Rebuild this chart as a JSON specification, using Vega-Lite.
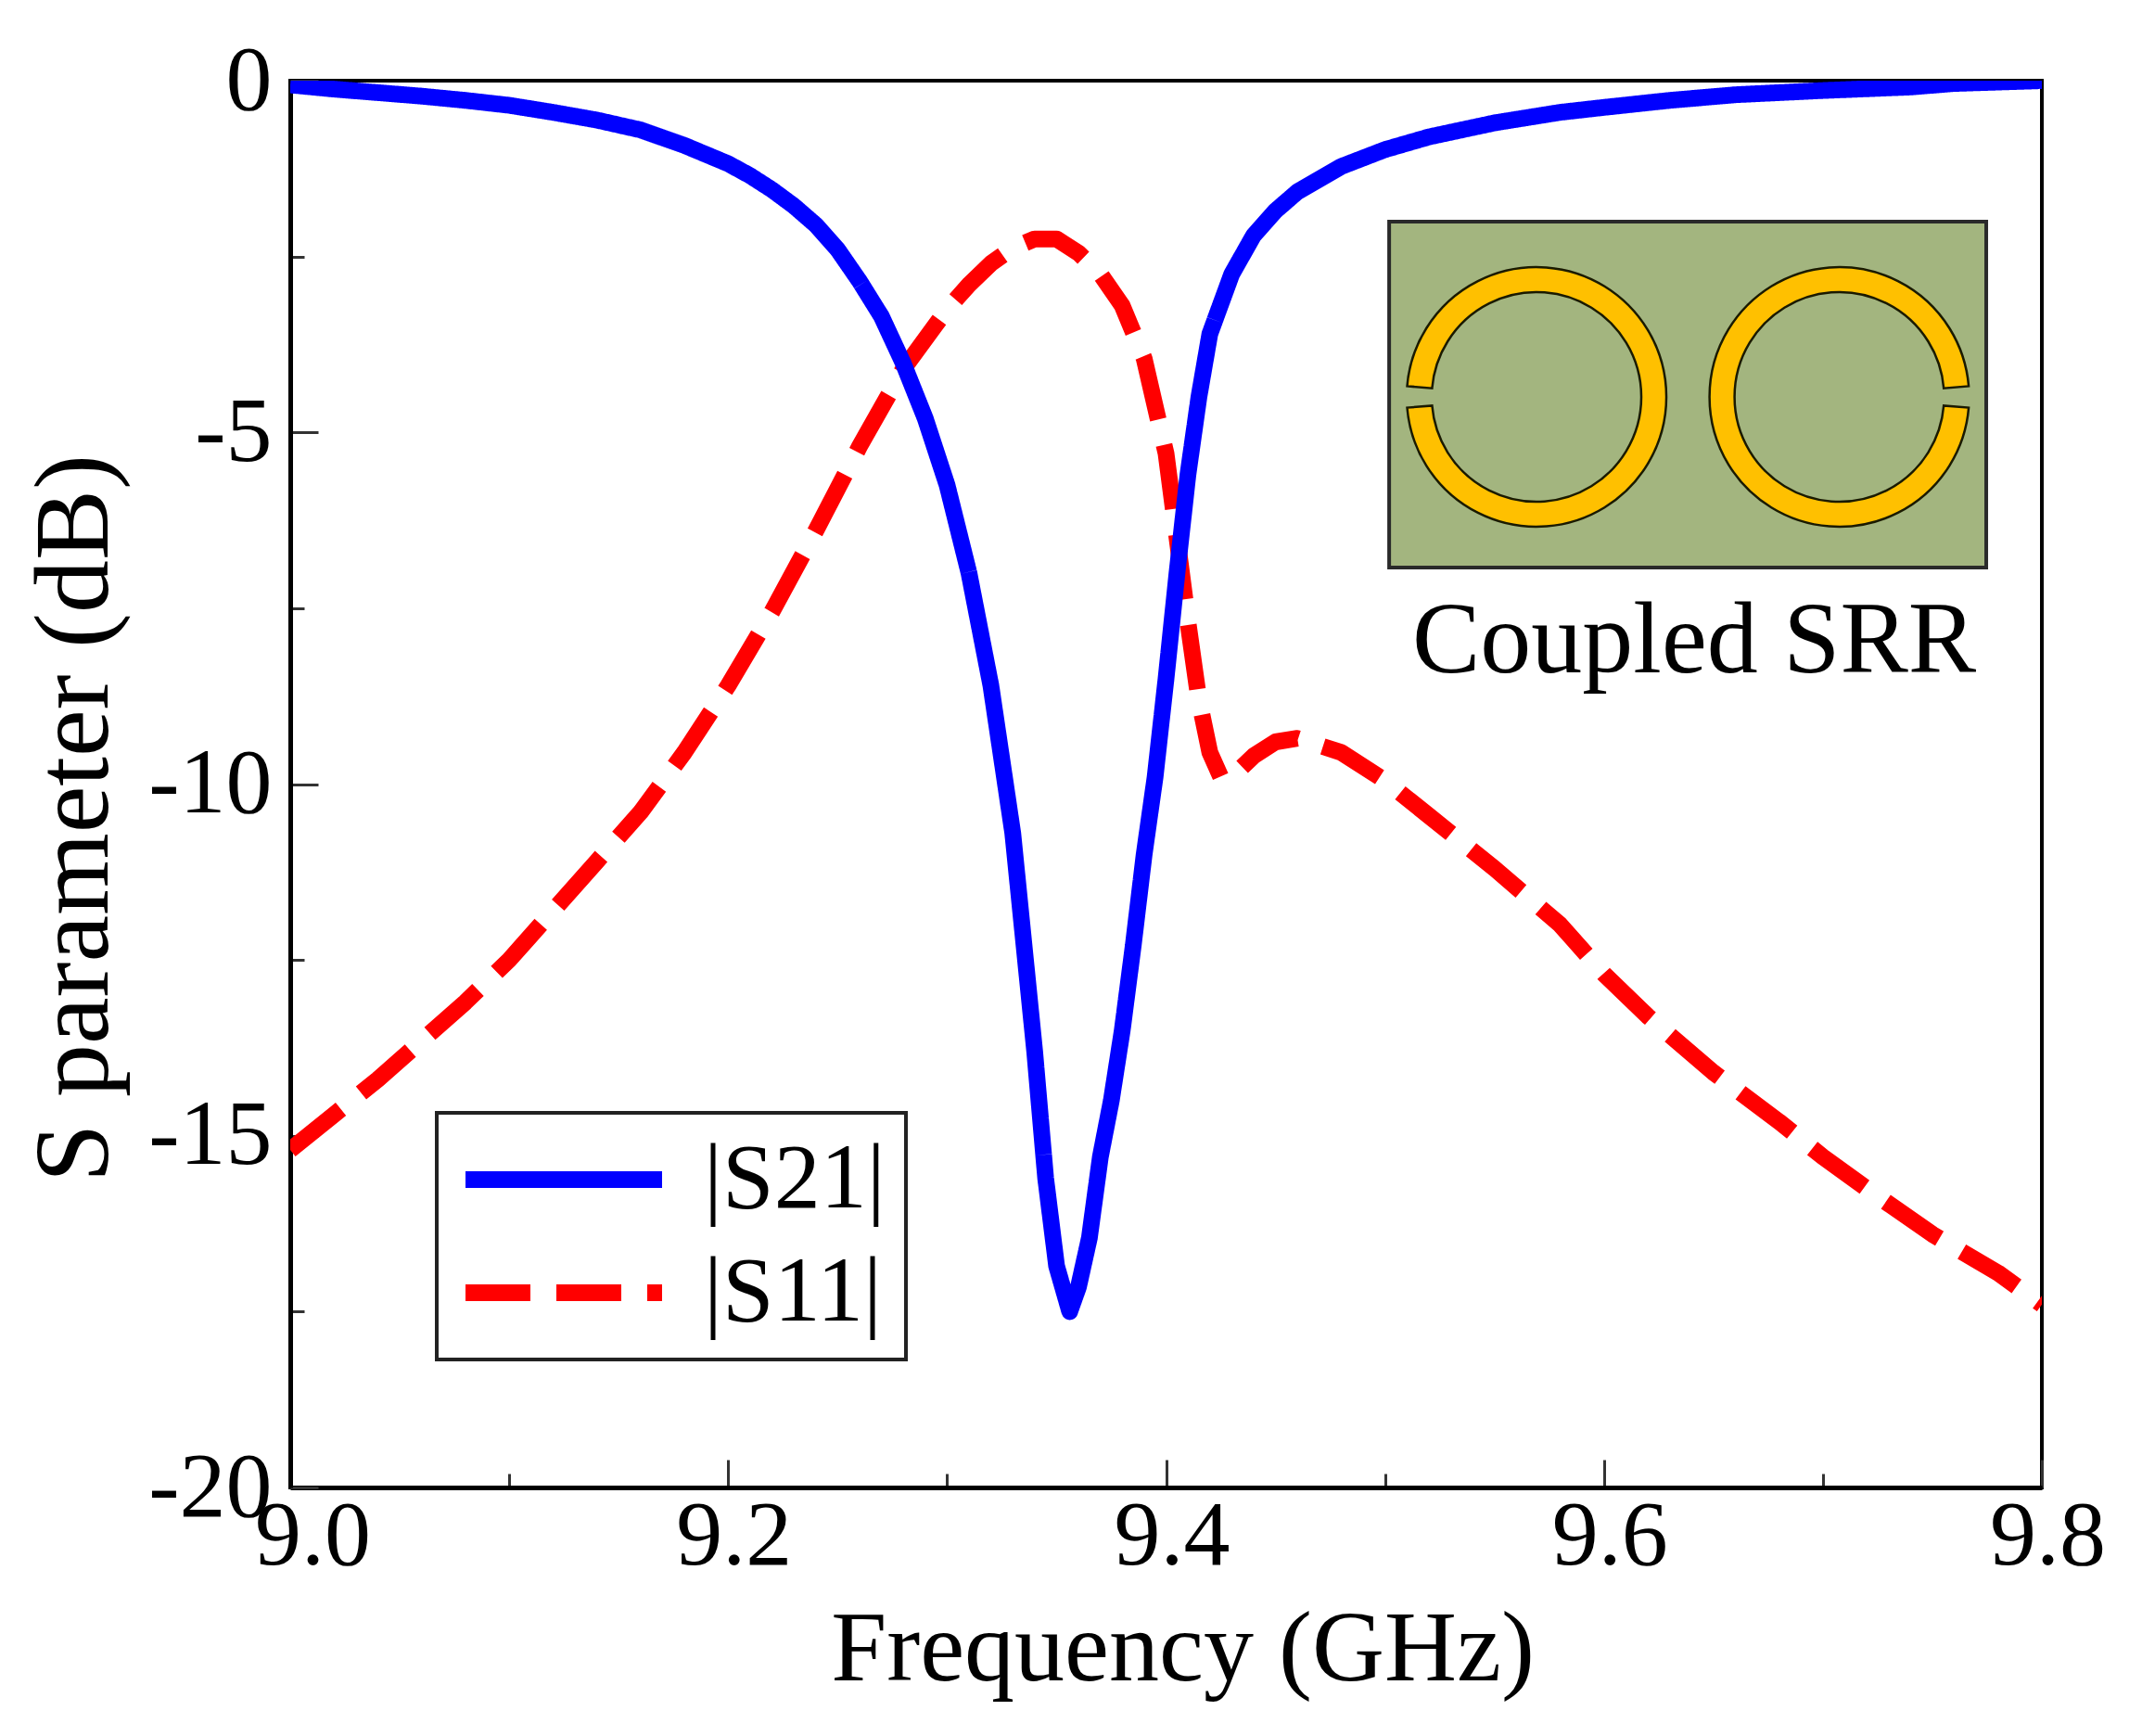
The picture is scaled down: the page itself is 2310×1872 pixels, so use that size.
{
  "$schema": "https://vega.github.io/schema/vega-lite/v6.json",
  "width": 1889,
  "height": 1517,
  "autosize": {"type": "none"},
  "padding": {"left": 313, "top": 87, "right": 108, "bottom": 268},
  "background": "white",
  "datasets": {
    "sparams": [
      {"f": 9.00, "db": -15.2, "s": "|S11|"},
      {"f": 9.02, "db": -14.7, "s": "|S11|"},
      {"f": 9.04, "db": -14.2, "s": "|S11|"},
      {"f": 9.06, "db": -13.65, "s": "|S11|"},
      {"f": 9.08, "db": -13.1, "s": "|S11|"},
      {"f": 9.10, "db": -12.5, "s": "|S11|"},
      {"f": 9.12, "db": -11.8, "s": "|S11|"},
      {"f": 9.14, "db": -11.1, "s": "|S11|"},
      {"f": 9.16, "db": -10.4, "s": "|S11|"},
      {"f": 9.18, "db": -9.55, "s": "|S11|"},
      {"f": 9.20, "db": -8.6, "s": "|S11|"},
      {"f": 9.22, "db": -7.55, "s": "|S11|"},
      {"f": 9.24, "db": -6.4, "s": "|S11|"},
      {"f": 9.26, "db": -5.2, "s": "|S11|"},
      {"f": 9.28, "db": -4.1, "s": "|S11|"},
      {"f": 9.30, "db": -3.25, "s": "|S11|"},
      {"f": 9.31, "db": -2.9, "s": "|S11|"},
      {"f": 9.32, "db": -2.6, "s": "|S11|"},
      {"f": 9.33, "db": -2.38, "s": "|S11|"},
      {"f": 9.34, "db": -2.25, "s": "|S11|"},
      {"f": 9.35, "db": -2.25, "s": "|S11|"},
      {"f": 9.36, "db": -2.45, "s": "|S11|"},
      {"f": 9.37, "db": -2.75, "s": "|S11|"},
      {"f": 9.38, "db": -3.2, "s": "|S11|"},
      {"f": 9.39, "db": -3.95, "s": "|S11|"},
      {"f": 9.40, "db": -5.3, "s": "|S11|"},
      {"f": 9.405, "db": -6.5, "s": "|S11|"},
      {"f": 9.41, "db": -7.7, "s": "|S11|"},
      {"f": 9.415, "db": -8.8, "s": "|S11|"},
      {"f": 9.42, "db": -9.55, "s": "|S11|"},
      {"f": 9.425, "db": -9.9, "s": "|S11|"},
      {"f": 9.43, "db": -9.9, "s": "|S11|"},
      {"f": 9.44, "db": -9.6, "s": "|S11|"},
      {"f": 9.45, "db": -9.4, "s": "|S11|"},
      {"f": 9.46, "db": -9.35, "s": "|S11|"},
      {"f": 9.48, "db": -9.55, "s": "|S11|"},
      {"f": 9.50, "db": -9.95, "s": "|S11|"},
      {"f": 9.52, "db": -10.45, "s": "|S11|"},
      {"f": 9.55, "db": -11.2, "s": "|S11|"},
      {"f": 9.58, "db": -12.0, "s": "|S11|"},
      {"f": 9.60, "db": -12.7, "s": "|S11|"},
      {"f": 9.62, "db": -13.3, "s": "|S11|"},
      {"f": 9.65, "db": -14.1, "s": "|S11|"},
      {"f": 9.68, "db": -14.8, "s": "|S11|"},
      {"f": 9.70, "db": -15.3, "s": "|S11|"},
      {"f": 9.72, "db": -15.75, "s": "|S11|"},
      {"f": 9.75, "db": -16.4, "s": "|S11|"},
      {"f": 9.78, "db": -16.95, "s": "|S11|"},
      {"f": 9.80, "db": -17.4, "s": "|S11|"},
      {"f": 9.00, "db": -0.06, "s": "|S21|"},
      {"f": 9.02, "db": -0.12, "s": "|S21|"},
      {"f": 9.04, "db": -0.17, "s": "|S21|"},
      {"f": 9.06, "db": -0.22, "s": "|S21|"},
      {"f": 9.08, "db": -0.28, "s": "|S21|"},
      {"f": 9.10, "db": -0.35, "s": "|S21|"},
      {"f": 9.12, "db": -0.45, "s": "|S21|"},
      {"f": 9.14, "db": -0.56, "s": "|S21|"},
      {"f": 9.16, "db": -0.7, "s": "|S21|"},
      {"f": 9.18, "db": -0.92, "s": "|S21|"},
      {"f": 9.20, "db": -1.18, "s": "|S21|"},
      {"f": 9.21, "db": -1.35, "s": "|S21|"},
      {"f": 9.22, "db": -1.55, "s": "|S21|"},
      {"f": 9.23, "db": -1.78, "s": "|S21|"},
      {"f": 9.24, "db": -2.05, "s": "|S21|"},
      {"f": 9.25, "db": -2.4, "s": "|S21|"},
      {"f": 9.26, "db": -2.85, "s": "|S21|"},
      {"f": 9.27, "db": -3.35, "s": "|S21|"},
      {"f": 9.28, "db": -4.02, "s": "|S21|"},
      {"f": 9.29, "db": -4.8, "s": "|S21|"},
      {"f": 9.30, "db": -5.75, "s": "|S21|"},
      {"f": 9.31, "db": -7.0, "s": "|S21|"},
      {"f": 9.32, "db": -8.6, "s": "|S21|"},
      {"f": 9.33, "db": -10.7, "s": "|S21|"},
      {"f": 9.34, "db": -13.8, "s": "|S21|"},
      {"f": 9.345, "db": -15.6, "s": "|S21|"},
      {"f": 9.35, "db": -16.85, "s": "|S21|"},
      {"f": 9.356, "db": -17.5, "s": "|S21|"},
      {"f": 9.36, "db": -17.15, "s": "|S21|"},
      {"f": 9.365, "db": -16.45, "s": "|S21|"},
      {"f": 9.37, "db": -15.3, "s": "|S21|"},
      {"f": 9.375, "db": -14.5, "s": "|S21|"},
      {"f": 9.38, "db": -13.5, "s": "|S21|"},
      {"f": 9.385, "db": -12.3, "s": "|S21|"},
      {"f": 9.39, "db": -11.0, "s": "|S21|"},
      {"f": 9.395, "db": -9.9, "s": "|S21|"},
      {"f": 9.40, "db": -8.5, "s": "|S21|"},
      {"f": 9.405, "db": -7.0, "s": "|S21|"},
      {"f": 9.41, "db": -5.6, "s": "|S21|"},
      {"f": 9.415, "db": -4.5, "s": "|S21|"},
      {"f": 9.42, "db": -3.6, "s": "|S21|"},
      {"f": 9.43, "db": -2.75, "s": "|S21|"},
      {"f": 9.44, "db": -2.2, "s": "|S21|"},
      {"f": 9.45, "db": -1.85, "s": "|S21|"},
      {"f": 9.46, "db": -1.58, "s": "|S21|"},
      {"f": 9.48, "db": -1.22, "s": "|S21|"},
      {"f": 9.50, "db": -0.98, "s": "|S21|"},
      {"f": 9.52, "db": -0.8, "s": "|S21|"},
      {"f": 9.55, "db": -0.6, "s": "|S21|"},
      {"f": 9.58, "db": -0.45, "s": "|S21|"},
      {"f": 9.60, "db": -0.38, "s": "|S21|"},
      {"f": 9.63, "db": -0.28, "s": "|S21|"},
      {"f": 9.66, "db": -0.2, "s": "|S21|"},
      {"f": 9.70, "db": -0.14, "s": "|S21|"},
      {"f": 9.74, "db": -0.09, "s": "|S21|"},
      {"f": 9.76, "db": -0.04, "s": "|S21|"},
      {"f": 9.80, "db": 0.0, "s": "|S21|"}
    ],
    "inset": [{"name": "Coupled SRR"}]
  },
  "layer": [
    {
      "data": {"name": "sparams"},
      "mark": {"type": "line", "strokeWidth": 18, "strokeCap": "butt", "strokeJoin": "round", "clip": true},
      "encoding": {
        "x": {
          "field": "f",
          "type": "quantitative",
          "scale": {"domain": [9.0, 9.8], "nice": false, "zero": false},
          "axis": {
            "title": "Frequency (GHz)",
            "values": [9.0, 9.1, 9.2, 9.3, 9.4, 9.5, 9.6, 9.7, 9.8],
            "labelExpr": "round(datum.value * 10) % 2 == 0 ? format(datum.value, '.1f') : ''",
            "tickSize": {"condition": {"test": "round(datum.value * 10) % 2 == 0", "value": -30}, "value": -15},
            "labelOffset": {"condition": {"test": "datum.value < 9.05", "value": 24}, "value": 6},
            "labelFlush": false,
            "labelPadding": 33,
            "labelFontSize": 100,
            "titlePadding": 20,
            "titleX": 962
          }
        },
        "y": {
          "field": "db",
          "type": "quantitative",
          "scale": {"domain": [-20, 0], "nice": false},
          "axis": {
            "title": "S parameter (dB)",
            "values": [-20, -17.5, -15, -12.5, -10, -7.5, -5, -2.5, 0],
            "labelExpr": "datum.value % 5 == 0 ? '' + datum.value : ''",
            "tickSize": {"condition": {"test": "datum.value % 5 == 0", "value": -30}, "value": -15},
            "labelFlush": false,
            "labelPadding": 50,
            "labelFontSize": 100,
            "titleFontSize": 114,
            "titlePadding": 20,
            "titleY": 795
          }
        },
        "color": {
          "field": "s",
          "type": "nominal",
          "scale": {"domain": ["|S21|", "|S11|"], "range": ["#0000ff", "#ff0000"]},
          "legend": {
            "title": null,
            "orient": "none",
            "legendX": 158,
            "legendY": 1113,
            "labelExpr": "datum.label + '\u00a0\u2009'"
          }
        },
        "strokeDash": {
          "field": "s",
          "type": "nominal",
          "scale": {"domain": ["|S21|", "|S11|"], "range": [[1, 0], [70, 28]]},
          "legend": {
            "title": null,
            "orient": "none",
            "legendX": 158,
            "legendY": 1113,
            "labelExpr": "datum.label + '\u00a0\u2009'"
          }
        }
      }
    },
    {
      "data": {"name": "inset"},
      "mark": {"type": "rect", "fill": "#a3b57f", "stroke": "#2a2a2a", "strokeWidth": 4},
      "encoding": {
        "x": {"datum": 9.5019},
        "x2": {"datum": 9.7746},
        "y": {"datum": -2.004},
        "y2": {"datum": -6.922}
      }
    },
    {
      "data": {"name": "inset"},
      "mark": {
        "type": "arc",
        "fill": "#ffc000",
        "stroke": "#1a1a00",
        "strokeWidth": 2.5,
        "radius": 140,
        "radius2": 113,
        "theta": -1.4878,
        "theta2": 4.6294
      },
      "encoding": {
        "x": {"datum": 9.5692},
        "y": {"datum": -4.496}
      }
    },
    {
      "data": {"name": "inset"},
      "mark": {
        "type": "arc",
        "fill": "#ffc000",
        "stroke": "#1a1a00",
        "strokeWidth": 2.5,
        "radius": 140,
        "radius2": 113,
        "theta": 1.6538,
        "theta2": 7.7710
      },
      "encoding": {
        "x": {"datum": 9.7075},
        "y": {"datum": -4.496}
      }
    },
    {
      "data": {"name": "inset"},
      "mark": {
        "type": "text",
        "font": "Liberation Serif",
        "fontSize": 110,
        "color": "black",
        "align": "center",
        "baseline": "alphabetic"
      },
      "encoding": {
        "text": {"field": "name"},
        "x": {"datum": 9.6412},
        "y": {"datum": -8.41}
      }
    }
  ],
  "config": {
    "view": {"stroke": "black", "strokeWidth": 4},
    "font": "Liberation Serif",
    "axis": {
      "grid": false,
      "domainColor": "black",
      "domainWidth": 5,
      "tickColor": "#333333",
      "tickWidth": 3,
      "labelColor": "black",
      "labelFont": "Liberation Serif",
      "titleFont": "Liberation Serif",
      "titleFontSize": 108,
      "titleFontWeight": "normal",
      "titleColor": "black"
    },
    "legend": {
      "symbolType": "stroke",
      "symbolSize": 44944,
      "symbolStrokeWidth": 18,
      "clipHeight": 100,
      "labelFont": "Liberation Serif",
      "labelFontSize": 100,
      "labelColor": "black",
      "labelOffset": 36,
      "labelLimit": 1000,
      "rowPadding": 22,
      "padding": 22,
      "fillColor": "white",
      "strokeColor": "#222222",
      "strokeWidth": 4
    }
  }
}
